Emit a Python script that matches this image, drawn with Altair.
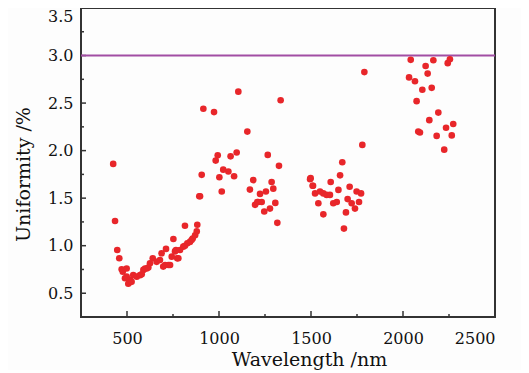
import altair as alt
import pandas as pd

# Wavelength (nm) and uniformity (%)
wavelength = [
    425, 435, 447, 458, 471, 477, 489, 498, 498, 507, 516, 525, 534, 553, 571, 580,
    589, 598, 607, 616, 625, 640, 661, 679, 688, 697, 707, 712, 725, 734, 743, 752,
    761, 766, 773, 779, 788, 806, 815, 815, 828, 842, 851, 857, 870, 879, 882, 893,
    897, 906, 915, 973, 982, 993, 1002, 1015, 1023, 1051, 1063, 1082, 1096, 1105,
    1154, 1168, 1186, 1196, 1208, 1213, 1223, 1232, 1246, 1255, 1265, 1277, 1286,
    1295, 1306, 1317, 1326, 1335,
    1495, 1498, 1509, 1511, 1522, 1540, 1549, 1567, 1567, 1585, 1603, 1607, 1621,
    1640, 1649, 1658, 1670, 1679, 1690, 1699, 1710, 1721, 1739, 1748, 1761, 1772,
    1779, 1790,
    2033, 2042, 2065, 2074, 2083, 2092, 2105, 2123, 2134, 2143, 2156, 2165, 2183,
    2192, 2224, 2234, 2243, 2255, 2265, 2273,
]
uniformity = [
    1.86, 1.26, 0.955, 0.868, 0.752, 0.727, 0.657, 0.674, 0.76, 0.60, 0.64, 0.62, 0.69, 0.674, 0.69, 0.70,
    0.745, 0.76, 0.76, 0.77, 0.815, 0.868, 0.83, 0.85, 0.92, 0.78, 0.797, 0.966, 0.797, 0.797, 0.885, 1.07,
    0.94, 0.955, 0.867, 0.868, 0.955, 0.99, 1.21, 1.0, 1.025, 1.04, 1.06, 1.075, 1.11, 1.15, 1.22, 1.52,
    1.52, 1.745, 2.44, 2.405, 1.895, 1.95, 1.72, 1.57, 1.80, 1.78, 1.94, 1.73, 1.98, 2.62,
    2.2, 1.59, 1.69, 1.43, 1.46, 1.46, 1.545, 1.46, 1.36, 1.57, 1.955, 1.39, 1.67,
    1.60, 1.45, 1.24, 1.84, 2.53,
    1.70, 1.71, 1.63, 1.63, 1.55, 1.446, 1.57, 1.55, 1.33, 1.534, 1.534, 1.67, 1.446,
    1.46, 1.587, 1.74, 1.878, 1.18, 1.35, 1.49, 1.62, 1.446, 1.39, 1.57, 1.46, 1.55,
    2.06, 2.826,
    2.77, 2.955, 2.73, 2.52, 2.20, 2.19, 2.64, 2.89, 2.81, 2.32, 2.66, 2.95, 2.155,
    2.40, 2.01, 2.24, 2.92, 2.96, 2.16, 2.28,
]

x_major = [500, 1000, 1500, 2000, 2500]
x_minor = [750, 1250, 1750, 2250]
y_major = [0.5, 1.0, 1.5, 2.0, 2.5, 3.0, 3.5]
y_minor = [0.75, 1.25, 1.75, 2.25, 2.75, 3.25]
threshold = [3.0]

W, H = 414, 309
x_scale = alt.Scale(domain=[250, 2500], nice=False, zero=False)
y_scale = alt.Scale(domain=[0.25, 3.5], nice=False, zero=False)

df = pd.DataFrame({"w": wavelength, "u": uniformity})
FONT = "DejaVu Serif"

points = alt.Chart(df).mark_circle(size=44, color="#e8262a", opacity=1).encode(
    x=alt.X("w:Q", scale=x_scale,
            axis=alt.Axis(title="Wavelength /nm", values=x_major, format="d",
                          tickSize=0, domain=False, grid=False,
                          labelBaseline="alphabetic", labelPadding=26,
                          labelFont=FONT, labelFontSize=16, labelColor="#111",
                          titleFont=FONT, titleFontSize=19, titleFontWeight="normal",
                          titleColor="#111", titleAnchor="middle", titleAlign="center",
                          titleBaseline="alphabetic", titleX=228, titleY=48)),
    y=alt.Y("u:Q", scale=y_scale,
            axis=alt.Axis(title="Uniformity /%", values=y_major, format=".1f",
                          tickSize=0, domain=False, grid=False, labelPadding=8,
                          labelFlush=True,
                          labelFont=FONT, labelFontSize=16, labelColor="#111",
                          titleFont=FONT, titleFontSize=19, titleFontWeight="normal",
                          titleColor="#111", titleAnchor="middle", titleAlign="center",
                          titleBaseline="alphabetic", titleX=-52, titleY=166)),
)

hline = alt.Chart(pd.DataFrame({"t": threshold})).mark_rule(
    color="#a24ea4", strokeWidth=2).encode(y=alt.Y("t:Q", scale=y_scale))

xmaj = alt.Chart(pd.DataFrame({"v": x_major[:-1]})).mark_rule(
    color="#333", strokeWidth=1.5).encode(
    x=alt.X("v:Q", scale=x_scale), y=alt.value(H), y2=alt.value(H - 6))
xmin = alt.Chart(pd.DataFrame({"v": x_minor})).mark_rule(
    color="#333", strokeWidth=1.5).encode(
    x=alt.X("v:Q", scale=x_scale), y=alt.value(H), y2=alt.value(H - 3))
ymaj = alt.Chart(pd.DataFrame({"v": y_major[:-1]})).mark_rule(
    color="#333", strokeWidth=1.5).encode(
    y=alt.Y("v:Q", scale=y_scale), x=alt.value(0), x2=alt.value(5))
ymin = alt.Chart(pd.DataFrame({"v": y_minor})).mark_rule(
    color="#333", strokeWidth=1.5).encode(
    y=alt.Y("v:Q", scale=y_scale), x=alt.value(0), x2=alt.value(3))

chart = alt.layer(xmaj, xmin, ymaj, ymin, hline, points).properties(
    width=W, height=H,
    autosize=alt.AutoSizeParams(type="none"),
    padding={"left": 73, "top": 0, "right": 26, "bottom": 53},
    background="#fdfdfd",
).configure_view(stroke="#333", strokeWidth=2)

chart.save("out.html", embed_options={"renderer": "svg", "actions": False})
